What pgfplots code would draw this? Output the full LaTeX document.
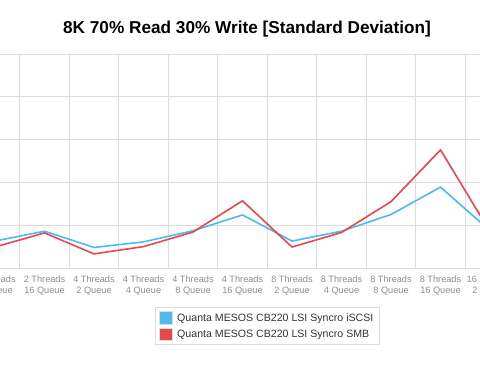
\documentclass[border=0pt]{standalone}
\usepackage{pgfplots}
\pgfplotsset{compat=1.18}
\usepackage{fontspec}
\setmainfont{Liberation Sans}
\definecolor{sblue}{HTML}{4DB9EE}
\definecolor{sred}{HTML}{E9474C}
\definecolor{gridc}{HTML}{DCDCDC}
\definecolor{tickc}{HTML}{8C8C8C}
\begin{document}
\begin{tikzpicture}[x=1pt,y=1pt]
\useasboundingbox (0,0) rectangle (480,376);
\clip (0,0) rectangle (480,376);
\node[font=\fontsize{17.2}{20}\selectfont\bfseries, text=black] at (247,347) {8K 70\% Read 30\% Write [Standard Deviation]};
\begin{axis}[
  at={(-29.75pt,108pt)}, anchor=south west,
  scale only axis, width=544.5pt, height=214pt,
  xmin=-0.5, xmax=10.5, ymin=0, ymax=5,
  xtick={0,...,10},
  xticklabels={2 Threads\\8 Queue, 2 Threads\\16 Queue, 4 Threads\\2 Queue, 4 Threads\\4 Queue, 4 Threads\\8 Queue, 4 Threads\\16 Queue, 8 Threads\\2 Queue, 8 Threads\\4 Queue, 8 Threads\\8 Queue, 8 Threads\\16 Queue, 16 Threads\\2 Queue},
  xticklabel style={font=\fontsize{9.2}{11}\selectfont, text=tickc, align=center, yshift=-4pt},
  minor xtick={-0.5,0.5,...,10.5},
  xminorgrids, ymajorgrids,
  ytick={0,...,5}, yticklabels={},
  grid style={draw=gridc, line width=0.8pt},
  minor grid style={draw=gridc, line width=0.8pt},
  major tick length=0pt, minor tick length=0pt,
  axis line style={draw=none},
  clip=false,
  legend style={at={(rel axis cs:0.5455,-0.271)}, anchor=center, draw=gridc, line width=0.8pt,
    font=\fontsize{10.6}{13}\selectfont, text=black!80, row sep=3pt, column sep=3pt, inner xsep=4pt, inner ysep=4pt},
  legend cell align=left,
]
\addplot[sblue, line width=1.6pt, line join=round,
  legend image code/.code={\draw[draw=gridc, fill=sblue, line width=0.6pt] (0pt,-6pt) rectangle (12.5pt,6.5pt);}]
  coordinates {(0,0.63) (1,0.86) (2,0.48) (3,0.61) (4,0.87) (5,1.24) (6,0.63) (7,0.86) (8,1.25) (9,1.89) (10,0.87)};
\addlegendentry{Quanta MESOS CB220 LSI Syncro iSCSI}
\addplot[sred, line width=1.6pt, line join=round,
  legend image code/.code={\draw[draw=gridc, fill=sred, line width=0.6pt] (0pt,-6pt) rectangle (12.5pt,6.5pt);}]
  coordinates {(0,0.49) (1,0.82) (2,0.33) (3,0.50) (4,0.84) (5,1.57) (6,0.49) (7,0.83) (8,1.55) (9,2.76) (10,0.85)};
\addlegendentry{Quanta MESOS CB220 LSI Syncro SMB}
\end{axis}
\end{tikzpicture}
\end{document}
